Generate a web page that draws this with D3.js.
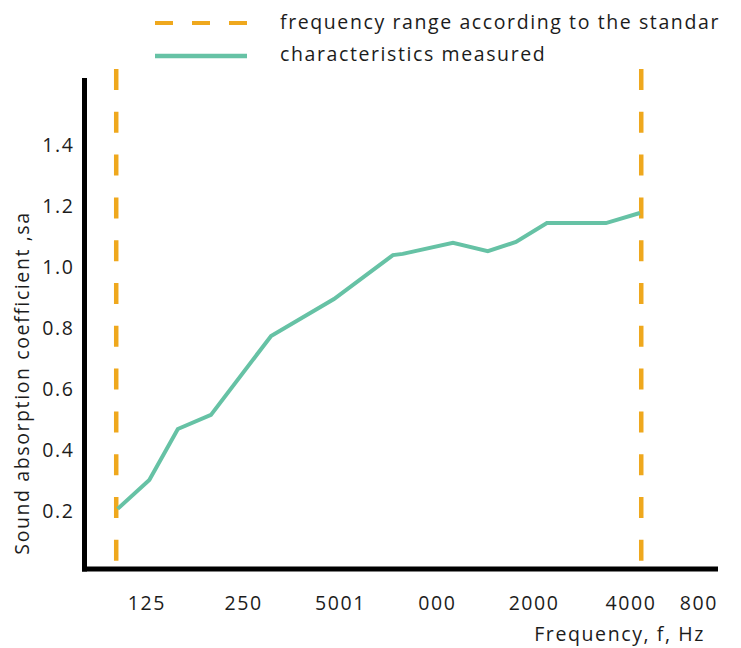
<!DOCTYPE html>
<html>
<head>
<meta charset="utf-8">
<script src="https://cdn.jsdelivr.net/npm/d3@7"></script>
<style>
  html, body { margin: 0; padding: 0; background: #fff; }
  svg { display: block; font-family: "Open Sans", sans-serif; }
  svg text { letter-spacing: 1.6px; }
</style>
</head>
<body>
<svg id="chart" width="741" height="648"></svg>
<script>
// ---- data ----
const tickFreqs  = [125, 250, 500, 1000, 2000, 4000, 8000];
const tickLabels = ["125", "250", "5001", "000", "2000", "4000", "800"];
const yTicks     = [0.2, 0.4, 0.6, 0.8, 1.0, 1.2, 1.4];

const measuredFreq  = [102, 128, 157, 199, 306, 480, 732, 785, 1125, 1444, 1766, 2204, 3364, 4287];
const measuredAlpha = [0.207, 0.302, 0.469, 0.515, 0.774, 0.895, 1.039, 1.043, 1.079, 1.052, 1.082, 1.144, 1.144, 1.177];

const standardRange = [101, 4330];

const legendLabels = ["frequency range according to the standar", "characteristics measured"];
const yTitle = "Sound absorption coefficient ,sa";
const xTitle = "Frequency, f, Hz";

// ---- layout ----
const svg = d3.select("#chart");
const axisX0 = 84.5, axisX1 = 718, axisYBottom = 569, axisYTop = 78;
const orange = "#efa81d", green = "#66c2a5", ink = "#1c1c1c";
const fs = 19.5;

const x = d3.scaleLog().base(2).domain([125, 8000]).range([146, 727]);
const y = d3.scaleLinear().domain([0, 1.6]).range([572, 84]);

// y tick labels
const yAxis = d3.axisLeft(y).tickValues(yTicks).tickSize(0).tickPadding(10).tickFormat(d3.format(".1f"));
const gy = svg.append("g").attr("transform", `translate(${axisX0},0)`).call(yAxis);
gy.select(".domain").remove();
gy.selectAll("text").attr("font-size", fs).attr("fill", ink).attr("font-family", "Open Sans");

// x tick labels
const gx = svg.append("g");
gx.selectAll("text").data(tickFreqs).join("text")
  .attr("x", (d, i) => i === tickFreqs.length - 1 ? Math.min(x(d), axisX1) : x(d) + 0.8)
  .attr("y", 610)
  .attr("text-anchor", (d, i) => i === tickFreqs.length - 1 ? "end" : "middle")
  .attr("font-size", fs).attr("fill", ink)
  .text((d, i) => tickLabels[i]);

// standard range dashed lines
svg.append("g").selectAll("line").data(standardRange).join("line")
  .attr("x1", d => x(d)).attr("x2", d => x(d))
  .attr("y1", 69).attr("y2", 561)
  .attr("stroke", orange).attr("stroke-width", 4.5)
  .attr("stroke-dasharray", "21,21.8");

// measured curve
const pts = measuredFreq.map((f, i) => [f, measuredAlpha[i]]);
svg.append("path")
  .datum(pts)
  .attr("fill", "none")
  .attr("stroke", green)
  .attr("stroke-width", 4)
  .attr("stroke-linejoin", "miter")
  .attr("d", d3.line().x(d => x(d[0])).y(d => y(d[1])));

// axes lines
svg.append("line").attr("x1", axisX0).attr("x2", axisX0).attr("y1", axisYTop).attr("y2", axisYBottom + 2.5)
  .attr("stroke", "#000").attr("stroke-width", 5);
svg.append("line").attr("x1", axisX0 - 2.5).attr("x2", axisX1).attr("y1", axisYBottom).attr("y2", axisYBottom)
  .attr("stroke", "#000").attr("stroke-width", 5);

// axis titles
svg.append("text")
  .attr("transform", `translate(29,383) rotate(-90)`)
  .attr("text-anchor", "middle")
  .attr("font-size", fs).attr("fill", ink)
  .text(yTitle);
svg.append("text")
  .attr("x", 705).attr("y", 641)
  .attr("text-anchor", "end")
  .attr("font-size", fs).attr("fill", ink)
  .text(xTitle);

// legend
const lg = svg.append("g");
lg.append("line").attr("x1", 155).attr("x2", 247).attr("y1", 23).attr("y2", 23)
  .attr("stroke", orange).attr("stroke-width", 4).attr("stroke-dasharray", "18,19");
lg.append("line").attr("x1", 155).attr("x2", 247).attr("y1", 56).attr("y2", 56)
  .attr("stroke", green).attr("stroke-width", 4.5);
lg.selectAll("text").data(legendLabels).join("text")
  .attr("x", 280).attr("y", (d, i) => 29 + i * 32)
  .attr("font-size", fs).attr("fill", ink)
  .text(d => d);
</script>
</body>
</html>
